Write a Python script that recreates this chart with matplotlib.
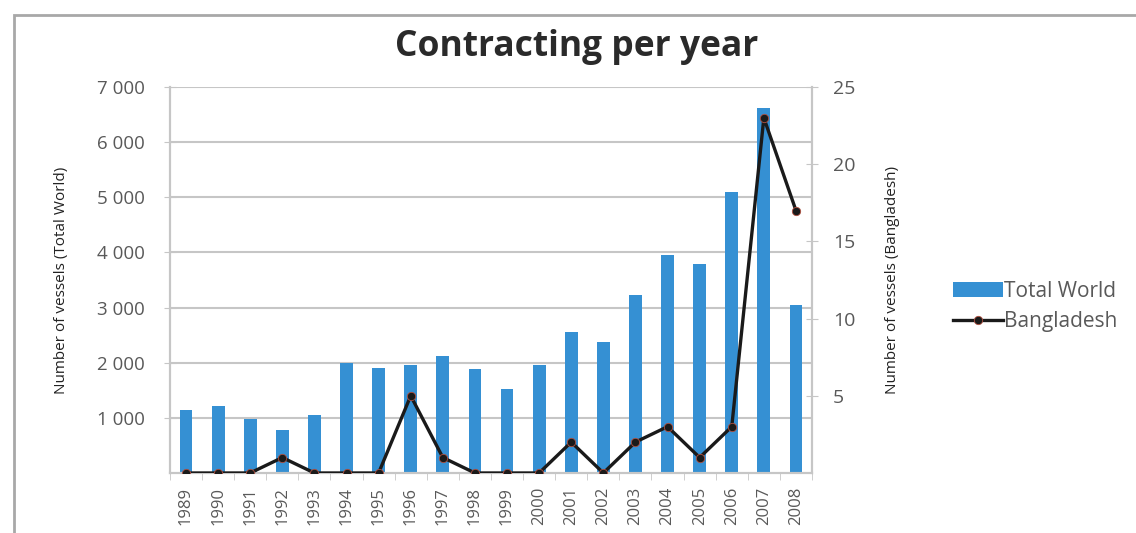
import matplotlib.pyplot as plt
import numpy as np
from matplotlib.patches import Rectangle
from matplotlib.ticker import FuncFormatter

years = [str(y) for y in range(1989, 2009)]
total_world = [1150, 1220, 980, 780, 1060, 2000, 1910, 1950, 2130, 1880,
               1530, 1950, 2560, 2370, 3220, 3950, 3790, 5100, 6610, 3040]
bangladesh = [0, 0, 0, 1, 0, 0, 0, 5, 1, 0, 0, 0, 2, 0, 2, 3, 1, 3, 23, 17]

left_ticks = [1000, 2000, 3000, 4000, 5000, 6000, 7000]
right_ticks = [5, 10, 15, 20, 25]

bar_color = '#3590d3'
grid_color = '#c6c6c6'
text_color = '#595959'

plt.rcParams['font.family'] = ['Open Sans', 'DejaVu Sans']

fig = plt.figure(figsize=(11.36, 5.33), dpi=100)
ax = fig.add_axes([0.1496, 0.1126, 0.5652, 0.7242])
ax2 = ax.twinx()

x = np.arange(len(years))
ax.bar(x, total_world, width=0.4, color=bar_color, label='Total World', zorder=2)
ax2.plot(x, bangladesh, color='#1a1a1a', lw=2.4, marker='o', ms=6,
         mfc='#1a1a1a', mec='#b05040', mew=0.6, label='Bangladesh', zorder=3)

ax.set_xlim(-0.5, len(years) - 0.5)
ax.set_ylim(0, 7000)
ax2.set_ylim(0, 25)

ax.set_yticks(left_ticks)
ax.yaxis.set_major_formatter(FuncFormatter(lambda v, p: f'{int(v):,}'.replace(',', ' ')))
ax2.set_yticks(right_ticks)
ax.yaxis.grid(True, color=grid_color, lw=1.5, zorder=0)
ax.set_axisbelow(True)

ax.set_xticks(x)
ax.set_xticklabels(years, rotation=90, fontsize=12, color=text_color)
ax.set_xticks(np.arange(-0.5, len(years)), minor=True)
ax.tick_params(axis='x', which='major', length=0, pad=10)
ax.tick_params(axis='x', which='minor', length=5, color=grid_color, direction='out')
ax.tick_params(axis='y', length=8, direction='inout', color=grid_color, labelsize=13.5,
               labelcolor=text_color, pad=14)
ax2.tick_params(axis='y', length=8, direction='inout', color=grid_color, labelsize=14,
                labelcolor=text_color, pad=11)

for a in (ax, ax2):
    a.spines['top'].set_visible(False)
    for side in ('left', 'right', 'bottom'):
        a.spines[side].set_color(grid_color)
        a.spines[side].set_linewidth(1.5)

ax.set_ylabel('Number of vessels (Total World)', fontsize=11, color='#222222',
              labelpad=20)
ax2.set_ylabel('Number of vessels (Bangladesh)', fontsize=11, color='#222222',
               rotation=90, labelpad=21)

fig.text(0.508, 0.912, 'Contracting per year', ha='center', va='center',
         fontsize=25.5, fontweight='bold', color='#2a2a2a')

h1, l1 = ax.get_legend_handles_labels()
h2, l2 = ax2.get_legend_handles_labels()
fig.legend(h1 + h2, l1 + l2, loc='center left', bbox_to_anchor=(0.822, 0.425),
           frameon=False, fontsize=15, labelcolor=text_color, handlelength=2.4,
           handletextpad=0.05, labelspacing=0.45)

fig.patches.append(Rectangle((14 / 1136, -0.05), 1.2, 1 - 15 / 533 + 0.05,
                             transform=fig.transFigure, fill=False,
                             edgecolor='#a8a8a8', lw=2))

fig.savefig('out.png', dpi=100)
